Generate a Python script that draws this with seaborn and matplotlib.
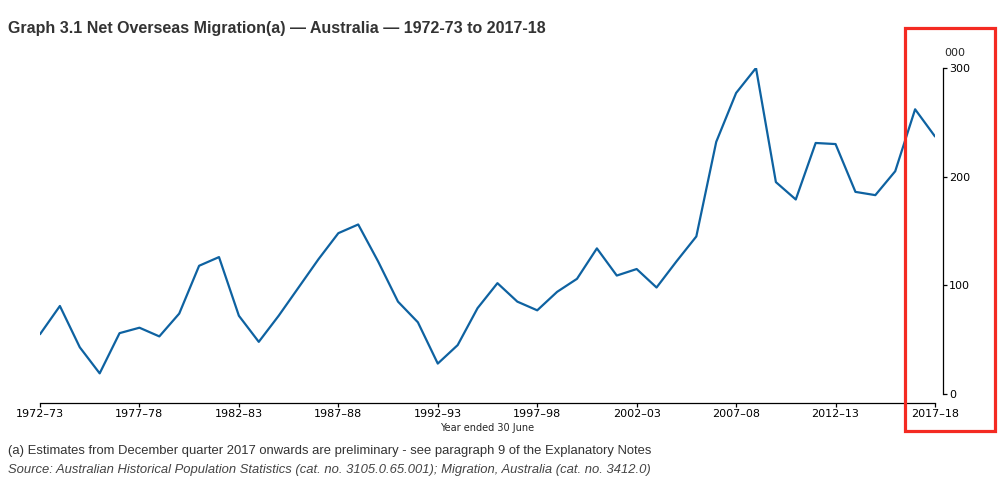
import numpy as np
import pandas as pd
import matplotlib
matplotlib.use("Agg")
import matplotlib.pyplot as plt
import seaborn as sns
from matplotlib.patches import Rectangle

# Net overseas migration, '000, years ended 30 June 1972-73 .. 2017-18
years = [f"{y}\u2013{str(y + 1)[-2:]}" for y in range(1972, 2018)]
nom = [55, 81, 43, 19, 56, 61, 53, 74, 118, 126,
       72, 48, 72, 98, 124, 148, 156, 122, 85, 66,
       28, 45, 79, 102, 85, 77, 94, 106, 134, 109,
       115, 98, 122, 145, 232, 277, 300, 195, 179, 231,
       230, 186, 183, 205, 262, 237]
tick_years = years[::5]

df = pd.DataFrame({"pos": np.arange(len(years)), "year": years, "nom": nom})

sns.set_style("white")
plt.rcParams["font.family"] = ["DejaVu Sans"]

W, H = 1003, 484
fig = plt.figure(figsize=(W / 100, H / 100), dpi=100)
ax = fig.add_axes([40 / W, (H - 394) / H, (935 - 40) / W, (394 - 68) / H])

sns.lineplot(data=df, x="pos", y="nom", ax=ax, color="#0e62a1", linewidth=1.6)

ax.set_xlim(0, len(years) - 1)
ax.set_ylim(0, 300)

# axes styling
for s in ["top", "left"]:
    ax.spines[s].set_visible(False)
ax.spines["bottom"].set_position(("outward", 6.5))
ax.spines["right"].set_position(("outward", 6))
ax.spines["right"].set_bounds(0, 300)
for s in ["bottom", "right"]:
    ax.spines[s].set_color("black")
    ax.spines[s].set_linewidth(0.9)

ax.yaxis.tick_right()
ax.set_yticks([0, 100, 200, 300])
ax.set_xticks(df["pos"][::5])
ax.set_xticklabels(tick_years)
ax.tick_params(axis="both", direction="out", length=3, width=0.9,
               labelsize=8, colors="black", pad=1.5)
ax.tick_params(axis="x", bottom=True)
ax.tick_params(axis="y", right=True, left=False, pad=1)

ax.set_xlabel("Year ended 30 June", fontsize=7, labelpad=3)
ax.set_ylabel("")

fig.text(955 / W, 1 - 53 / H, "000", fontsize=8, ha="center", va="center")

fig.text(8 / W, 1 - 29 / H,
         "Graph 3.1 Net Overseas Migration(a) \u2014 Australia \u2014 1972-73 to 2017-18",
         fontsize=11.5, fontweight="bold", color="#333333",
         family="Liberation Sans", va="center")
fig.text(8 / W, 1 - 451 / H,
         "(a) Estimates from December quarter 2017 onwards are preliminary - see paragraph 9 of the Explanatory Notes",
         fontsize=9.35, color="#333333", family="Liberation Sans", va="center")
fig.text(8 / W, 1 - 470 / H,
         "Source: Australian Historical Population Statistics (cat. no. 3105.0.65.001); Migration, Australia (cat. no. 3412.0)",
         fontsize=9.35, color="#444444", style="italic", family="Liberation Sans", va="center")

# red highlight box around the right axis
fig.patches.append(Rectangle((905 / W, 1 - 431 / H), 90 / W, 403 / H,
                             transform=fig.transFigure, fill=False,
                             edgecolor="#f42a22", linewidth=2.3))

fig.savefig("out.png", dpi=100)
